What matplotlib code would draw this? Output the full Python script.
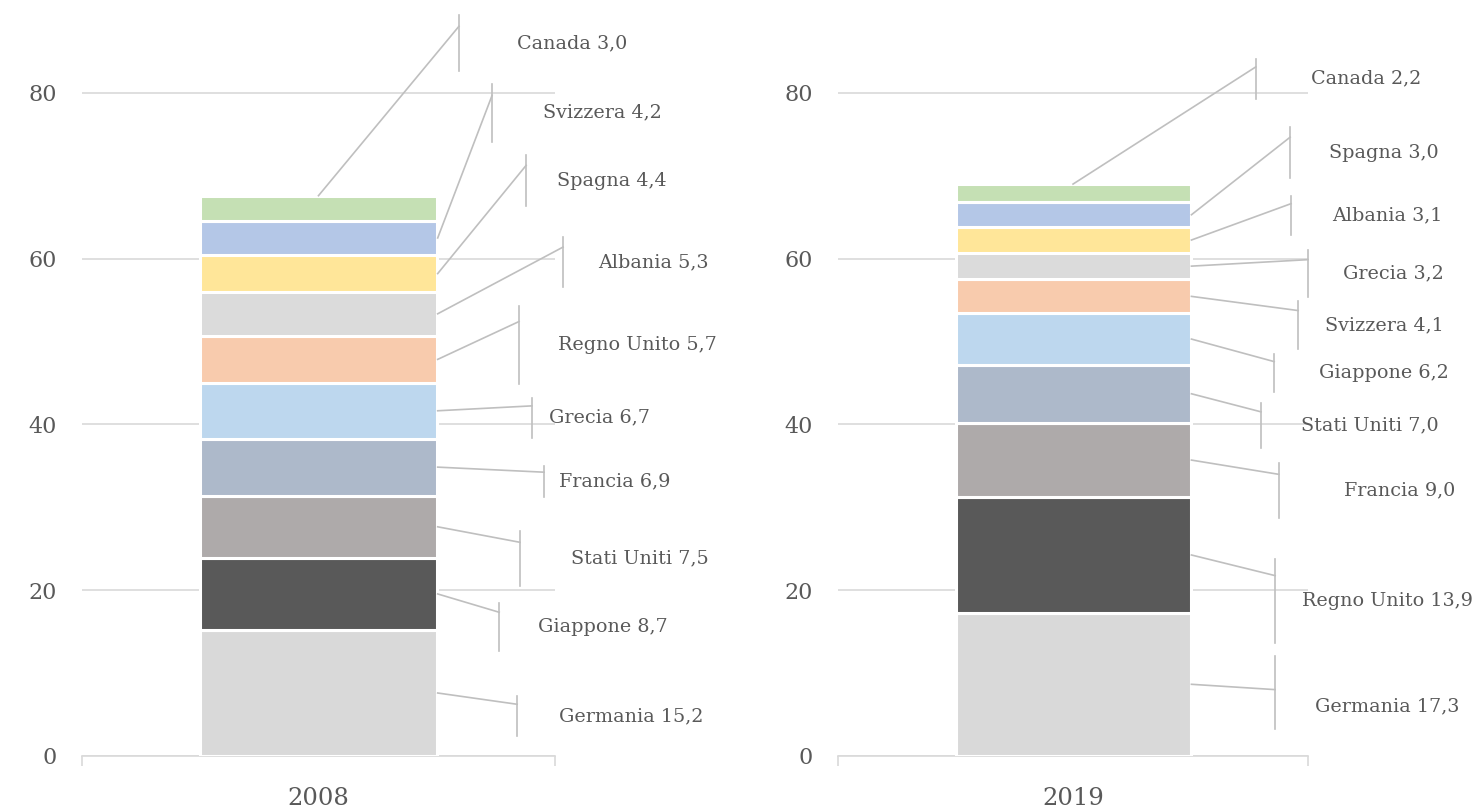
# -*- coding: utf-8 -*-
# stacked bars 2008 / 2019 with callout labels (excel style)
import numpy as np
import matplotlib.pyplot as plt

# dati (dal basso verso l'alto)
years = ['2008', '2019']
countries_2008 = ['Germania', 'Giappone', 'Stati Uniti', 'Francia', 'Grecia',
                  'Regno Unito', 'Albania', 'Spagna', 'Svizzera', 'Canada']
values_2008 = [15.2, 8.7, 7.5, 6.9, 6.7, 5.7, 5.3, 4.4, 4.2, 3.0]
countries_2019 = ['Germania', 'Regno Unito', 'Francia', 'Stati Uniti', 'Giappone',
                  'Svizzera', 'Grecia', 'Albania', 'Spagna', 'Canada']
values_2019 = [17.3, 13.9, 9.0, 7.0, 6.2, 4.1, 3.2, 3.1, 3.0, 2.2]
yticks = [0, 20, 40, 60, 80]

# colori per posizione nella pila
colors = ['#D9D9D9', '#595959', '#AEAAAA', '#ADB9CA', '#BDD7EE',
          '#F8CBAD', '#DBDBDB', '#FFE699', '#B4C7E7', '#C5E0B4']

# posizione etichette: y del testo, x centro testo, x della barretta,
# centro e mezza altezza della barretta, punto di attacco della linea
lab_y_2008 = [4.8, 15.6, 23.8, 33.1, 40.8, 49.6, 59.6, 69.4, 77.6, 86.0]
lab_x_2008 = [1.161, 1.101, 1.180, 1.127, 1.093, 1.175, 1.207, 1.121, 1.101, 1.036]
bar_x_2008 = [0.920, 0.882, 0.926, 0.977, 0.951, 0.924, 1.017, 0.939, 0.867, 0.797]
vc_2008 = [4.8, 15.6, 23.8, 33.1, 40.8, 49.6, 59.6, 69.4, 77.6, 86.0]
half_2008 = [2.4, 2.9, 3.3, 1.9, 2.4, 4.7, 3.0, 3.1, 3.5, 3.4]
elb_2008 = [0.6] * 10

lab_y_2019 = [6.0, 18.7, 32.0, 39.9, 46.2, 52.0, 58.2, 65.2, 72.8, 81.7]
lab_x_2019 = [1.168, 1.168, 1.196, 1.132, 1.162, 1.162, 1.181, 1.168, 1.162, 1.123]
bar_x_2019 = [0.930, 0.930, 0.938, 0.900, 0.928, 0.979, 1.000, 0.964, 0.962, 0.889]
vc_2019 = [7.7, 18.7, 32.0, 39.9, 46.2, 52.0, 58.2, 65.2, 72.8, 81.7]
half_2019 = [4.4, 5.1, 3.3, 2.7, 2.3, 2.9, 2.8, 2.4, 3.1, 2.4]
elb_2019 = [0.07] + [0.6] * 9

TXT = '#595959'
GRID = '#D9D9D9'
LEAD = '#BFBFBF'

plt.rcParams['font.family'] = ['DejaVu Serif']

fig = plt.figure(figsize=(14.82, 8.07), dpi=100)
ax1 = fig.add_axes([0.0553, 0.0632, 0.3192, 0.9244])
ax2 = fig.add_axes([0.5655, 0.0632, 0.3171, 0.9244])

panels = [
    (ax1, years[0], countries_2008, values_2008, lab_y_2008, lab_x_2008, bar_x_2008, vc_2008, half_2008, elb_2008),
    (ax2, years[1], countries_2019, values_2019, lab_y_2019, lab_x_2019, bar_x_2019, vc_2019, half_2019, elb_2019),
]

for ax, year, names, vals, ly, lx, bx, vc, hh, ef in panels:
    vals = np.array(vals)
    bottoms = np.concatenate([[0], np.cumsum(vals)[:-1]])
    ax.bar([0.5] * len(vals), vals, bottom=bottoms, width=0.5,
           color=colors, edgecolor='white', linewidth=2.2, zorder=3)

    ax.set_xlim(0, 1)
    ax.set_ylim(0, 90)
    ax.set_yticks(yticks)
    ax.yaxis.grid(True, color=GRID, linewidth=1.2)
    ax.set_axisbelow(True)
    for s in ['top', 'right', 'left']:
        ax.spines[s].set_visible(False)
    ax.spines['bottom'].set_color(GRID)
    ax.spines['bottom'].set_linewidth(1.2)
    ax.tick_params(axis='y', length=0, pad=18, labelsize=16, labelcolor=TXT)
    ax.set_xticks([0.5])
    ax.set_xticklabels([year])
    ax.set_xticks([0, 1], minor=True)
    ax.tick_params(axis='x', which='major', length=0, pad=22, labelsize=17.5, labelcolor=TXT)
    ax.tick_params(axis='x', which='minor', length=7, width=1.2, color=GRID)

    # etichette con linee guida
    for i, name in enumerate(names):
        mid = bottoms[i] + vals[i] / 2
        if i == len(names) - 1:
            sx, sy = 0.5, bottoms[i] + vals[i]
        else:
            sx, sy = 0.752, mid
        ey = vc[i] + ef[i] * hh[i]
        ax.plot([sx, bx[i]], [sy, ey], color=LEAD, linewidth=1.2,
                clip_on=False, zorder=4)
        ax.plot([bx[i], bx[i]], [vc[i] - hh[i], vc[i] + hh[i]], color=LEAD,
                linewidth=1.2, clip_on=False, zorder=4)
        label = '%s %s' % (name, ('%.1f' % vals[i]).replace('.', ','))
        ax.text(lx[i], ly[i], label, ha='center', va='center', fontsize=13.8,
                color=TXT, clip_on=False)

plt.savefig('out.png', dpi=100)
